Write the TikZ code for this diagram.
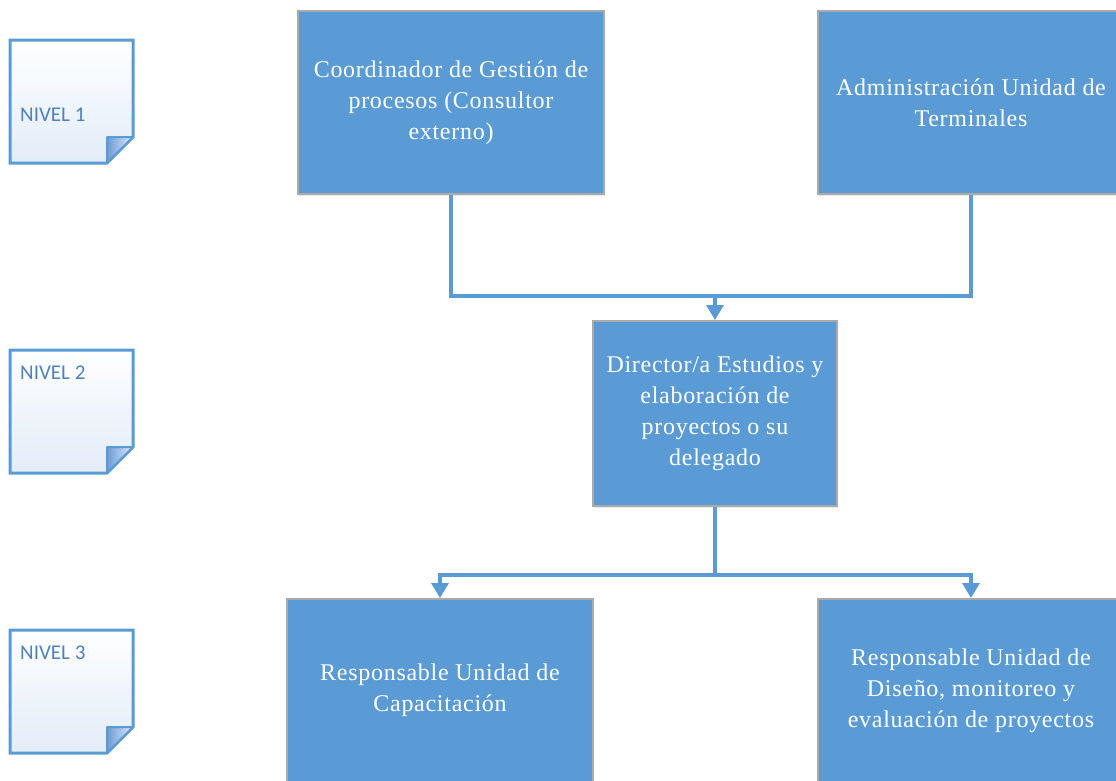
\documentclass[tikz,border=0pt]{standalone}
\usepackage{fontspec}
\setmainfont{Liberation Serif}[LetterSpace=3]
\newfontfamily\notefont{Carlito}
\usetikzlibrary{arrows.meta,shadows}

\definecolor{boxblue}{RGB}{91,155,213}
\definecolor{edgegray}{RGB}{170,170,170}
\definecolor{notetext}{RGB}{79,129,189}
\definecolor{notebg}{RGB}{226,236,248}
\definecolor{folddark}{RGB}{110,155,215}
\definecolor{foldlight}{RGB}{225,235,250}

\tikzset{
  orgbox/.style={draw=edgegray, line width=2pt, fill=boxblue, anchor=north west,
    inner sep=0pt, text=white, align=center,
    font=\fontsize{24}{31}\selectfont,
    drop shadow={opacity=0.18, shadow xshift=1pt, shadow yshift=-2pt}},
  wide/.style={minimum width=306pt, minimum height=183pt},
  conn/.style={draw=boxblue, line width=3.3pt},
  connarrow/.style={conn, -{Triangle[width=17pt,length=15pt]}},
  leveltext/.style={anchor=base west, inner sep=0pt, text=notetext,
    font=\notefont\fontsize{21}{24}\selectfont},
  levelnote/.pic={
    \path[top color=white, bottom color=notebg, draw=boxblue, line width=3pt]
      (0,0) -- (123,0) -- (123,97) -- (97,123) -- (0,123) -- cycle;
    \path[left color=folddark, right color=foldlight, draw=boxblue, line width=2pt,
      line join=round]
      (97,97) -- (123,97) -- (97,123) -- cycle;
  }
}

\begin{document}
\begin{tikzpicture}[x=1pt, y=-1pt]
  \clip (0,0) rectangle (1116,780);
  \fill[white] (0,0) rectangle (1116,780);

  % level markers on the left
  \pic at (10,40) {levelnote};
  \pic at (10,350) {levelnote};
  \pic at (10,630) {levelnote};
  \node[leveltext] (lvl1) at (20,121) {NIVEL 1};
  \node[leveltext] (lvl2) at (20,379) {NIVEL 2};
  \node[leveltext] (lvl3) at (20,659) {NIVEL 3};

  % level 1
  \node[orgbox, wide] (coord) at (297,10)
    {Coordinador de Gestión de\\procesos (Consultor\\externo)};
  \node[orgbox, wide] (admin) at (817,10)
    {Administración Unidad de\\Terminales};

  % level 2
  \node[orgbox, minimum width=244pt, minimum height=185pt] (dir) at (592,320)
    {Director/a Estudios y\\elaboración de\\proyectos o su\\delegado};

  % level 3
  \node[orgbox, wide] (capa) at (286,598)
    {Responsable Unidad de\\Capacitación};
  \node[orgbox, wide] (dise) at (817,598)
    {Responsable Unidad de\\Diseño, monitoreo y\\evaluación de proyectos};

  % connectors
  \coordinate (top join) at (714,296);
  \coordinate (low join) at (714,575);
  \draw[conn] (coord.south) |- (dir.north |- top join) -| (admin.south);
  \draw[connarrow] (dir.north |- top join) -- (dir.north);
  \draw[conn] (dir.south) -- (dir.south |- low join);
  \draw[connarrow] (dir.south |- low join) -| (capa.north);
  \draw[connarrow] (dir.south |- low join) -| (dise.north);
\end{tikzpicture}
\end{document}
